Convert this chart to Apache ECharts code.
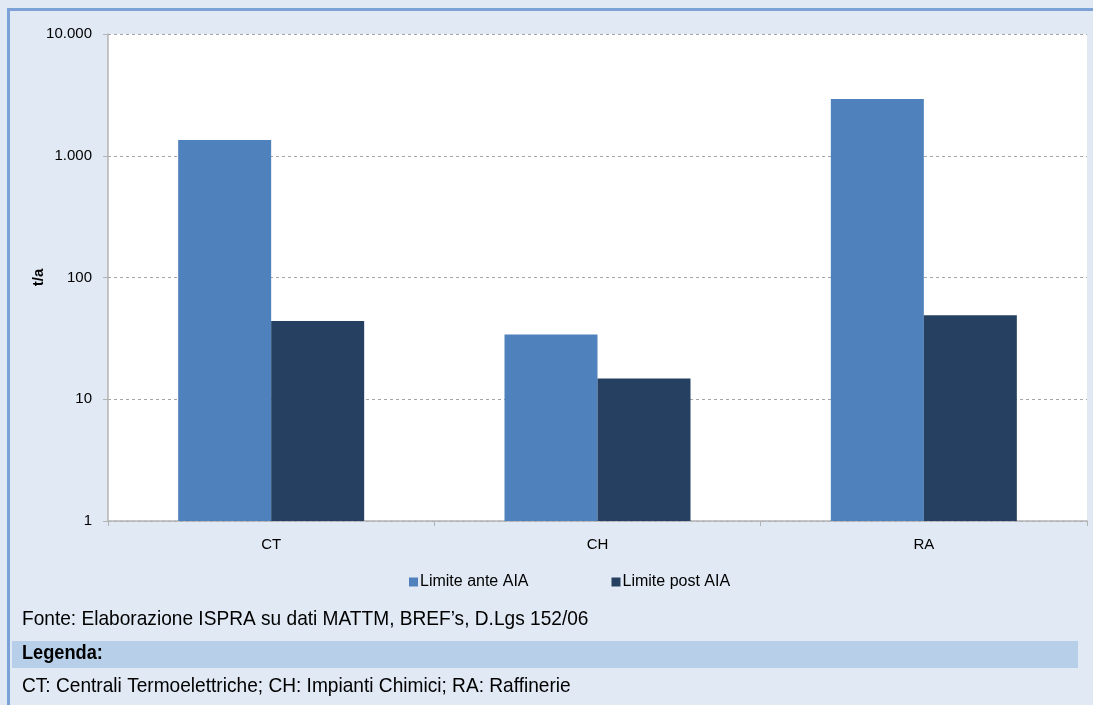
<!DOCTYPE html>
<html>
<head>
<meta charset="utf-8">
<script src="https://cdn.jsdelivr.net/npm/echarts@6/dist/echarts.min.js"></script>
<style>
  html, body { margin: 0; padding: 0; background: #e1e9f4; }
  #chart { width: 1093px; height: 705px; }
</style>
</head>
<body>
<div id="chart"></div>
<script>
// dati (t/a, scala log)
var categories = ["CT", "CH", "RA"];
var seriesNames = ["Limite ante AIA", "Limite post AIA"];
var limiteAnte = [1350, 34, 2920];
var limitePost = [44, 14.8, 49];

var fontBase = '"Liberation Sans", Arial, sans-serif';

function fmtIt(v) {
  // separatore migliaia con il punto
  return String(Math.round(v)).replace(/\B(?=(\d{3})+(?!\d))/g, ".");
}

var chart = echarts.init(document.getElementById("chart"));

var option = {
  backgroundColor: "#e1e9f4",
  animation: false,
  textStyle: { fontFamily: fontBase },
  grid: { left: 108, right: 6, top: 34, bottom: 184, show: true, backgroundColor: "#ffffff", borderWidth: 0 },
  legend: {
    data: seriesNames,
    left: 404,
    top: 569,
    icon: "rect",
    itemWidth: 9,
    itemHeight: 9,
    itemGap: 83,
    textStyle: { fontSize: 16, color: "#000", padding: [0, 0, 0, -3] }
  },
  xAxis: {
    type: "category",
    data: categories,
    axisLine: { lineStyle: { color: "#b3b3b3", width: 1.5 } },
    axisTick: { show: true, alignWithLabel: false, length: 5, lineStyle: { color: "#b3b3b3" } },
    axisLabel: { color: "#000", fontSize: 15, margin: 16 }
  },
  yAxis: {
    type: "log",
    logBase: 10,
    min: 1,
    max: 10000,
    name: "t/a",
    nameLocation: "middle",
    nameGap: 62,
    nameMoveOverlap: false,
    nameRotate: 90,
    nameTextStyle: { fontWeight: "bold", fontSize: 15, color: "#000" },
    axisLine: { show: true, lineStyle: { color: "#b3b3b3", width: 1.5 } },
    axisTick: { show: true, length: 5, lineStyle: { color: "#b3b3b3" } },
    axisLabel: { color: "#000", fontSize: 15, margin: 16, formatter: fmtIt },
    splitLine: { show: true, lineStyle: { color: "#a6a6a6", type: [3, 3], width: 1 } }
  },
  series: [
    {
      name: seriesNames[0],
      type: "bar",
      data: limiteAnte,
      barWidth: 93,
      barGap: "0%",
      itemStyle: { color: "#4f81bd" }
    },
    {
      name: seriesNames[1],
      type: "bar",
      data: limitePost,
      barWidth: 93,
      barGap: "0%",
      itemStyle: { color: "#254061" }
    }
  ],
  graphic: [
    // cornice blu superiore e sinistra
    { type: "rect", shape: { x: 7, y: 8, width: 1086, height: 3 }, style: { fill: "#7ba1d6" }, z: 100 },
    { type: "rect", shape: { x: 7, y: 8, width: 3, height: 697 }, style: { fill: "#7ba1d6" }, z: 100 },
    // fascia legenda
    { type: "rect", shape: { x: 12, y: 641, width: 1066, height: 27 }, style: { fill: "#b8cfe9" }, z: 90 },
    {
      type: "text", x: 22, y: 609, scaleX: 0.91,
      style: { text: "Fonte: Elaborazione ISPRA su dati MATTM, BREF\u2019s, D.Lgs 152/06", font: "21px " + fontBase, fill: "#000" },
      z: 100
    },
    {
      type: "text", x: 22, y: 643, scaleX: 0.91,
      style: { text: "Legenda:", font: "bold 20px " + fontBase, fill: "#000" },
      z: 100
    },
    {
      type: "text", x: 22, y: 676, scaleX: 0.91,
      style: { text: "CT: Centrali Termoelettriche; CH: Impianti Chimici; RA: Raffinerie", font: "21px " + fontBase, fill: "#000" },
      z: 100
    }
  ]
};

chart.setOption(option);
</script>
</body>
</html>
